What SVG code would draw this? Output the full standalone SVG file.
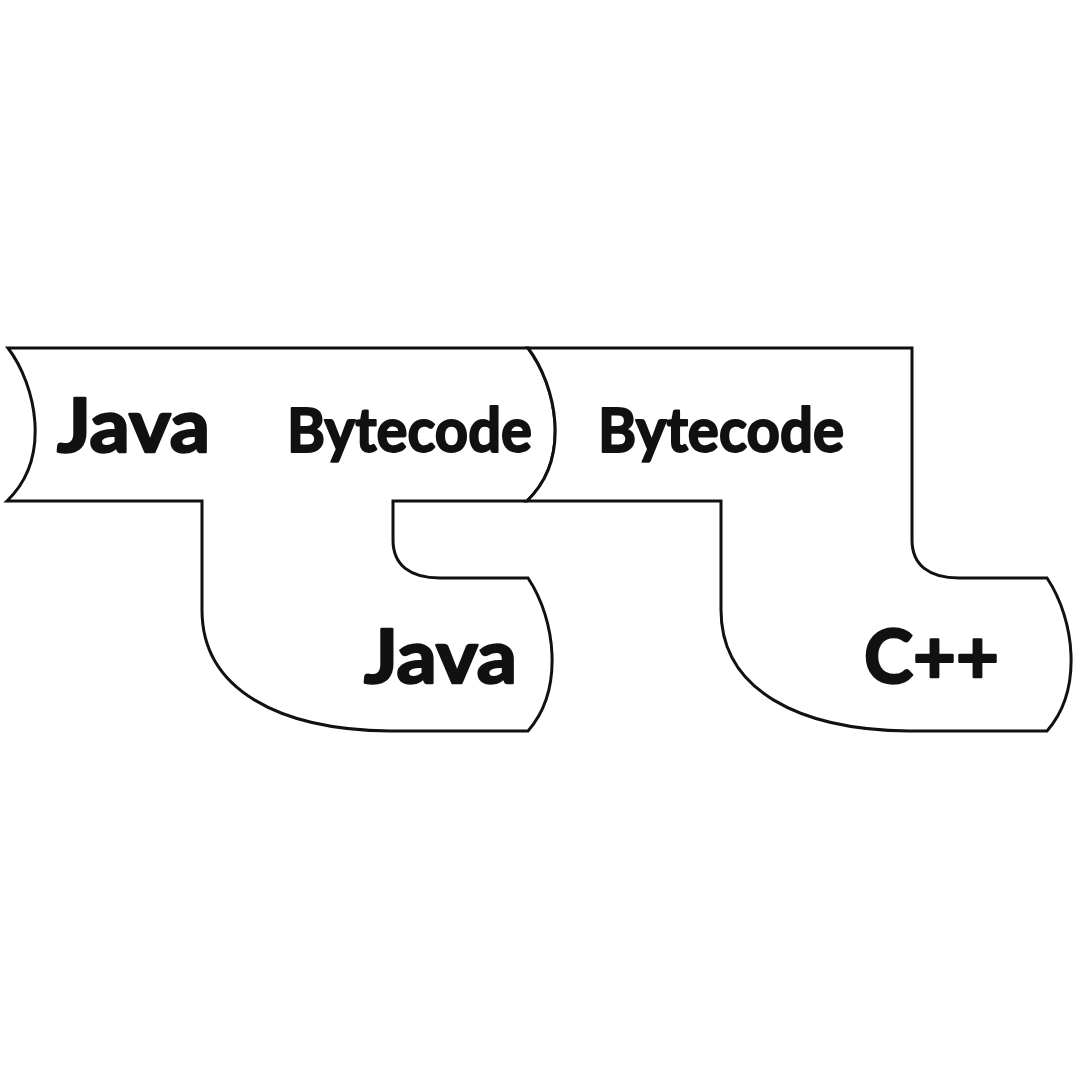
<svg xmlns="http://www.w3.org/2000/svg" width="1080" height="1080" viewBox="0 0 1080 1080">
  <style>
    .shape { fill: #ffffff; stroke: #111111; stroke-width: 3; stroke-linejoin: miter; }
    .big { font-family: Lato, "Open Sans", "Liberation Sans", sans-serif; font-weight: 700; font-size: 75px; fill: #111111; stroke: #111111; stroke-width: 2.4; stroke-linejoin: round; }
    .mid { font-family: Lato, "Open Sans", "Liberation Sans", sans-serif; font-weight: 700; font-size: 62px; fill: #111111; stroke: #111111; stroke-width: 2; stroke-linejoin: round; }
  </style>
  <rect width="1080" height="1080" fill="#ffffff"/>
  <g id="compiler-java-to-bytecode">
    <path class="shape" d="M 8,348 L 528,348 C 556,385 572,458 527,501 L 393,501 L 393,540 C 393,565 410,578 440,578 L 528,578 C 556,620 564,690 528,731 L 390,731 C 280,730 202,690 202,610 L 202,501 L 7,501 C 52,458 36,385 8,348 Z"/>
    <text class="big" x="57" y="452" textLength="153" lengthAdjust="spacingAndGlyphs">Java</text>
    <text class="mid" x="287" y="452" textLength="245" lengthAdjust="spacingAndGlyphs">Bytecode</text>
    <text class="big" x="364" y="683" textLength="153" lengthAdjust="spacingAndGlyphs">Java</text>
  </g>
  <g id="interpreter-bytecode-on-cpp">
    <path class="shape" d="M 528,348 L 912,348 L 912,540 C 912,565 929,578 959,578 L 1047,578 C 1075,620 1083,690 1047,731 L 909,731 C 799,730 721,690 721,610 L 721,501 L 527,501 C 572,458 556,385 528,348 Z"/>
    <text class="mid" x="598" y="452" textLength="246" lengthAdjust="spacingAndGlyphs">Bytecode</text>
    <text class="big" x="864" y="683" textLength="135" lengthAdjust="spacingAndGlyphs">C++</text>
  </g>
  <g id="connectors"/>
</svg>
